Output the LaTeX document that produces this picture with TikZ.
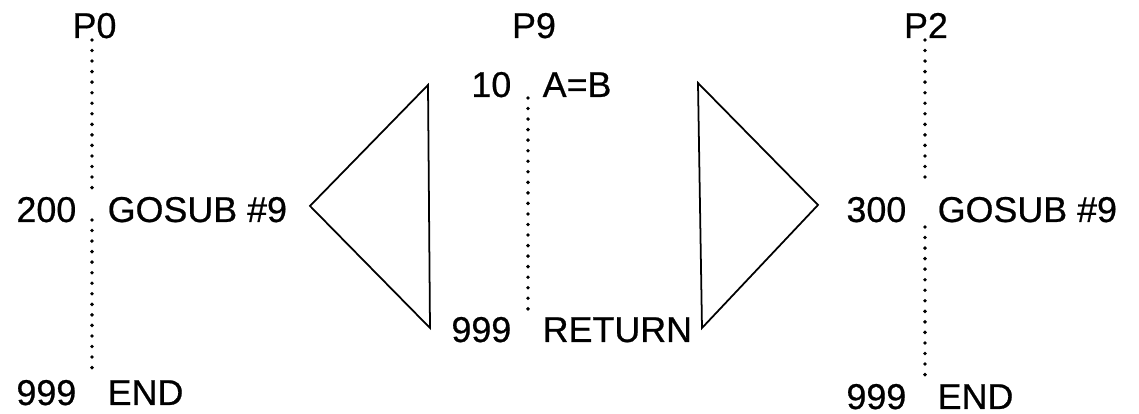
\documentclass[tikz,border=0pt]{standalone}
\usepackage{fontspec}
\setmainfont{Liberation Sans}
\newfontfamily\codefont[FakeBold=0.6]{Liberation Sans}
\usepackage{tikz}
\usetikzlibrary{positioning}
\definecolor{Ink}{RGB}{0,0,0}
\tikzset{code/.style={inner sep=0pt,font=\codefont\fontsize{10.2}{12}\selectfont,text=Ink},
  dotline/.style={Ink,line width=1.1pt,line cap=round,dash pattern=on 0pt off 3pt}}
\newcommand{\basicline}[5]{%
  \node[code,anchor=base east] (#1num) at (#2-0.15,#3) {#4};
  \node[code,anchor=base west] (#1stm) at (#2+0.15,#3) {#5};}

\begin{document}
\begin{tikzpicture}
  \useasboundingbox (0,0) rectangle (11.39,4.14);
  % program names
  \node[code,anchor=base] (pzero) at (0.945,3.76) {P0};
  \node[code,anchor=base] (pnine) at (5.34,3.76) {P9};
  \node[code,anchor=base] (ptwo) at (9.26,3.76) {P2};
  % program lines
  \basicline{a}{0.92}{1.92}{200}{GOSUB \#9}
  \basicline{b}{0.92}{0.09}{999}{END}
  \basicline{c}{5.27}{3.17}{10}{A=B}
  \basicline{d}{5.27}{0.72}{999}{RETURN}
  \basicline{e}{9.22}{1.92}{300}{GOSUB \#9}
  \basicline{f}{9.22}{0.05}{999}{END}
  % dotted program flow
  \coordinate (lzt) at (0.92,3.74); \coordinate (lza) at (0.92,2.22);
  \coordinate (lzb) at (0.92,1.94); \coordinate (lzc) at (0.92,0.44);
  \coordinate (lnt) at (5.28,3.16); \coordinate (lnb) at (5.28,1.01);
  \coordinate (ltt) at (9.25,3.74); \coordinate (lta) at (9.25,2.32);
  \coordinate (ltb) at (9.25,1.87); \coordinate (ltc) at (9.25,0.37);
  \draw[dotline] (lzt)--(lza);
  \draw[dotline] (lzb)--(lzc);
  \draw[dotline] (lnt)--(lnb);
  \draw[dotline] (ltt)--(lta);
  \draw[dotline] (ltb)--(ltc);
  % call and return wedges
  \draw[Ink,line width=0.5pt] (3.10,2.08)--(4.28,3.29)--(4.30,0.86)--cycle;
  \draw[Ink,line width=0.5pt] (6.98,3.31)--(7.02,0.86)--(8.18,2.09)--cycle;
\end{tikzpicture}
\end{document}
